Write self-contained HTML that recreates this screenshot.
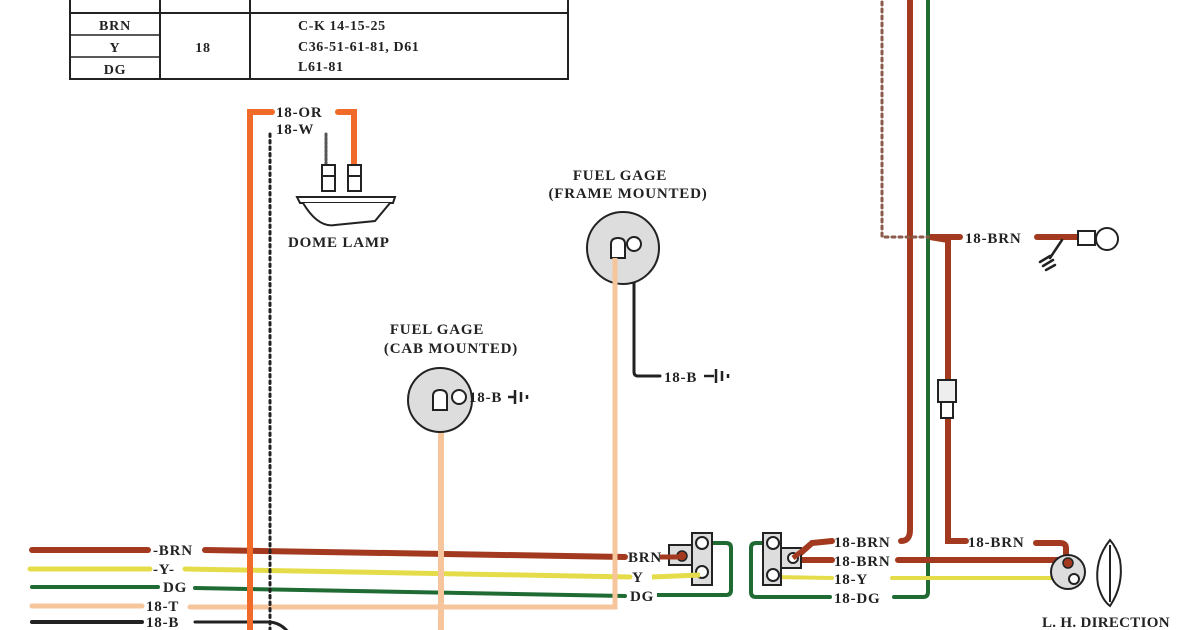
<!DOCTYPE html>
<html><head><meta charset="utf-8"><style>
html,body{margin:0;padding:0;background:#fff;}
svg{display:block;}
text{font-family:"Liberation Serif",serif;font-weight:bold;fill:#222;letter-spacing:0.8px;}
</style></head><body>
<svg width="1200" height="630" viewBox="0 0 1200 630" xmlns="http://www.w3.org/2000/svg">
<rect width="1200" height="630" fill="#fff"/>
<!-- table -->
<g stroke="#222" fill="none">
<rect x="70" y="-5" width="498" height="84" stroke-width="2"/>
<line x1="70" y1="13" x2="568" y2="13" stroke-width="2"/>
<line x1="160" y1="-5" x2="160" y2="79" stroke-width="2"/>
<line x1="250" y1="-5" x2="250" y2="79" stroke-width="2"/>
<line x1="70" y1="35" x2="160" y2="35" stroke-width="1.5"/>
<line x1="70" y1="57" x2="160" y2="57" stroke-width="1.5"/>
</g>
<g font-size="14">
<text x="115" y="30" text-anchor="middle">BRN</text>
<text x="115" y="52" text-anchor="middle">Y</text>
<text x="115" y="74" text-anchor="middle">DG</text>
<text x="203" y="52" text-anchor="middle">18</text>
<text x="298" y="30" style="letter-spacing:0.6px">C-K 14-15-25</text>
<text x="298" y="51" style="letter-spacing:0.6px">C36-51-61-81, D61</text>
<text x="298" y="71" style="letter-spacing:0.6px">L61-81</text>
</g>

<!-- bottom wires -->
<g fill="none" stroke-linecap="round">
<line x1="32" y1="550" x2="148" y2="550" stroke="#a33a1f" stroke-width="6"/>
<path d="M205 550 L625 557" stroke="#a33a1f" stroke-width="6"/>
<line x1="30" y1="569" x2="150" y2="569" stroke="#e5dc4a" stroke-width="5"/>
<path d="M185 569 L630 577" stroke="#e5dc4a" stroke-width="5"/>
<line x1="32" y1="587" x2="158" y2="587" stroke="#1f6b33" stroke-width="4"/>
<path d="M195 588 L625 596" stroke="#1f6b33" stroke-width="4"/>
<line x1="32" y1="606" x2="142" y2="606" stroke="#f7c59c" stroke-width="5"/>
<path d="M190 607 L615 607 L615 258" stroke="#f7c59c" stroke-width="5"/>
<line x1="32" y1="622" x2="142" y2="622" stroke="#222" stroke-width="4"/>
<path d="M195 622 L268 622 Q280 622 288 632" stroke="#222" stroke-width="3"/>
<path d="M250 632 L250 112 L272 112" stroke="#f06a2a" stroke-width="6"/>
<path d="M338 112 L354 112 L354 165" stroke="#f06a2a" stroke-width="6"/>
<line x1="270" y1="134" x2="270" y2="632" stroke="#222" stroke-width="3" stroke-dasharray="2.5 4"/>
<line x1="326" y1="134" x2="326" y2="165" stroke="#555" stroke-width="3" stroke-dasharray="2 2"/>
<line x1="441" y1="400" x2="441" y2="632" stroke="#f7c59c" stroke-width="6"/>
<path d="M634 255 L634 372 Q634 376 638 376 L660 376" stroke="#222" stroke-width="3"/>
</g>
<g font-size="15">
<text x="153" y="555">-BRN</text>
<text x="153" y="574">-Y-</text>
<text x="163" y="592">DG</text>
<text x="146" y="611">18-T</text>
<text x="146" y="627">18-B</text>
<text x="276" y="117">18-OR</text>
<text x="276" y="134">18-W</text>
</g>

<!-- dome lamp -->
<g stroke="#222" stroke-width="2" fill="#fff">
<rect x="322" y="165" width="13" height="11"/><rect x="322" y="176" width="13" height="15"/>
<rect x="348" y="165" width="13" height="11"/><rect x="348" y="176" width="13" height="15"/>
<path d="M297 197 L395 197 L393 203 L300 203 Z"/>
<path d="M303 203 Q318 228 335 225 L375 221 L390 203" fill="#fff"/>
</g>
<text x="288" y="247" font-size="15">DOME LAMP</text>

<!-- frame gage -->
<text x="620" y="180" font-size="15" text-anchor="middle">FUEL GAGE</text>
<text x="628" y="198" font-size="15" text-anchor="middle">(FRAME MOUNTED)</text>
<circle cx="623" cy="248" r="36" fill="#ddd" stroke="#222" stroke-width="2"/>
<path d="M611 258 L611 244 Q611 238 618 238 Q625 238 625 244 L625 258 Z" fill="#fff" stroke="#222" stroke-width="2"/>
<circle cx="634" cy="244" r="7" fill="#fff" stroke="#222" stroke-width="2"/>
<line x1="615" y1="258" x2="615" y2="290" stroke="#f7c59c" stroke-width="5"/>
<text x="664" y="382" font-size="15">18-B</text>
<path d="M704 376 L714 376 M716 369 L716 383 M722 371 L722 381 M728 374 L728 378" stroke="#222" stroke-width="2.5"/>

<!-- cab gage -->
<text x="437" y="334" font-size="15" text-anchor="middle">FUEL GAGE</text>
<text x="451" y="353" font-size="15" text-anchor="middle">(CAB MOUNTED)</text>
<circle cx="440" cy="400" r="32" fill="#ddd" stroke="#222" stroke-width="2"/>
<path d="M433 410 L433 396 Q433 390 440 390 Q447 390 447 396 L447 410 Z" fill="#fff" stroke="#222" stroke-width="2"/>
<circle cx="459" cy="397" r="7" fill="#fff" stroke="#222" stroke-width="2"/>
<text x="469" y="402" font-size="15">18-B</text>
<path d="M508 397 L514 397 M515 390 L515 404 M521 392 L521 402 M527 395 L527 399" stroke="#222" stroke-width="2.5"/>

<!-- connector 1 -->
<path d="M702 543 L726 543 Q731 543 731 548 L731 590 Q731 595 726 595 L657 595" fill="none" stroke="#1f6b33" stroke-width="4"/>
<rect x="669" y="545" width="23" height="20" fill="#ddd" stroke="#222" stroke-width="2"/>
<rect x="692" y="533" width="20" height="52" fill="#ddd" stroke="#222" stroke-width="2"/>
<circle cx="702" cy="543" r="6" fill="#fff" stroke="#222" stroke-width="2"/>
<circle cx="702" cy="572" r="6" fill="#fff" stroke="#222" stroke-width="2"/>
<circle cx="682" cy="556" r="5" fill="#a33a1f" stroke="#222" stroke-width="1.5"/>
<path d="M660 557 L680 557" stroke="#a33a1f" stroke-width="5"/>
<path d="M652 577 L700 575" stroke="#e5dc4a" stroke-width="5"/>
<g font-size="15">
<text x="628" y="562">BRN</text>
<text x="632" y="582">Y</text>
<text x="630" y="601">DG</text>
</g>

<!-- connector 2 -->
<g fill="none" stroke-linecap="round">
<path d="M773 543 L756 543 Q751 543 751 548 L751 592 Q751 597 756 597 L830 597" stroke="#1f6b33" stroke-width="4"/>
<path d="M894 597 L923 597 Q928 597 928 592 L928 -5" stroke="#1f6b33" stroke-width="4"/>
<path d="M795 558 L812 543 L832 541" stroke="#a33a1f" stroke-width="6"/>
<path d="M800 560 L832 560" stroke="#a33a1f" stroke-width="6"/>
<path d="M773 577 L832 578" stroke="#e5dc4a" stroke-width="4"/>
<path d="M892 578 L1060 578" stroke="#e5dc4a" stroke-width="4"/>
<path d="M901 541 Q910 541 910 530 L910 -5" stroke="#a33a1f" stroke-width="6"/>
<path d="M898 560 L1066 560 L1066 548 Q1066 543 1060 543 L1036 543" stroke="#a33a1f" stroke-width="6"/>
<path d="M966 541 L948 541 L948 240 L930 237 L960 237" stroke="#a33a1f" stroke-width="6"/>
<path d="M1037 237 L1078 237" stroke="#a33a1f" stroke-width="6"/>
<path d="M882 -5 L882 237 L928 237" stroke="#8a5a4a" stroke-width="3" stroke-dasharray="3 4"/>
<path d="M1062 240 L1050 258 M1040 262 L1050 256 M1043 266 L1053 260 M1046 270 L1055 265" stroke="#222" stroke-width="2.5"/>
</g>
<rect x="763" y="533" width="18" height="52" fill="#ddd" stroke="#222" stroke-width="2"/>
<rect x="781" y="548" width="20" height="20" fill="#ddd" stroke="#222" stroke-width="2"/>
<circle cx="773" cy="543" r="6" fill="#fff" stroke="#222" stroke-width="2"/>
<circle cx="773" cy="575" r="6" fill="#fff" stroke="#222" stroke-width="2"/>
<circle cx="793" cy="558" r="5" fill="#fff" stroke="#222" stroke-width="2"/>
<path d="M793 558 L812 543" stroke="#a33a1f" stroke-width="5"/>
<g font-size="15">
<text x="834" y="547">18-BRN</text>
<text x="834" y="566">18-BRN</text>
<text x="834" y="584">18-Y</text>
<text x="834" y="603">18-DG</text>
<text x="968" y="547">18-BRN</text>
<text x="965" y="243">18-BRN</text>
<text x="1042" y="627" font-size="15" style="letter-spacing:0.3px">L. H. DIRECTION</text>
</g>
<rect x="938" y="380" width="18" height="22" fill="#eee" stroke="#222" stroke-width="2"/>
<rect x="941" y="402" width="12" height="16" fill="#fff" stroke="#222" stroke-width="2"/>
<rect x="1078" y="231" width="17" height="14" fill="#fff" stroke="#222" stroke-width="2"/>
<circle cx="1107" cy="239" r="11" fill="#fff" stroke="#222" stroke-width="2"/>
<circle cx="1068" cy="572" r="17" fill="#ddd" stroke="#222" stroke-width="2"/>
<circle cx="1068" cy="563" r="5" fill="#a33a1f" stroke="#222" stroke-width="1.5"/>
<circle cx="1074" cy="579" r="5" fill="#fff" stroke="#222" stroke-width="2"/>
<path d="M1110 540 Q1094 560 1098 585 Q1102 600 1110 606 Q1124 585 1120 560 Q1117 548 1110 540 Z" fill="#fff" stroke="#222" stroke-width="2"/>
<line x1="1110" y1="545" x2="1110" y2="602" stroke="#222" stroke-width="2"/>
</svg>
</body></html>
